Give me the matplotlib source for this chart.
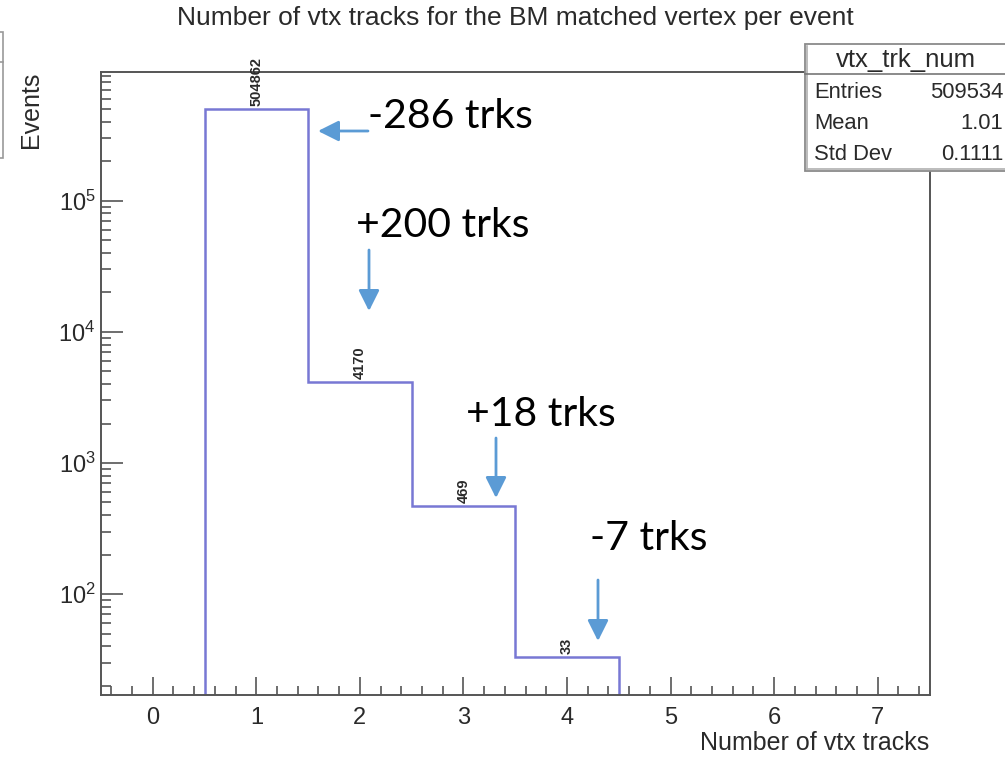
import matplotlib
matplotlib.use("Agg")
import matplotlib.pyplot as plt
from matplotlib.patches import Rectangle, FancyArrowPatch
from matplotlib.ticker import MultipleLocator, LogLocator, NullFormatter

plt.rcParams['font.family'] = ['Liberation Sans', 'DejaVu Sans']
plt.rcParams['mathtext.default'] = 'regular'

# histogram data
edges = [0.5, 1.5, 2.5, 3.5, 4.5]
counts = [504862, 4170, 469, 33]

title = "Number of vtx tracks for the BM matched vertex per event"
xlabel = "Number of vtx tracks"
ylabel = "Events"

stat_name = "vtx_trk_num"
stat_keys = ["Entries", "Mean", "Std Dev"]
stat_vals = ["509534", "1.01", "0.1111"]

notes = ["-286 trks", "+200 trks", "+18 trks", "-7 trks"]

W, H = 1005, 757
fig = plt.figure(figsize=(W / 100, H / 100), dpi=100)

def fx(x):
    return x / W

def fy(y):
    return 1 - y / H

ax = fig.add_axes([fx(101), fy(695), fx(929.5) - fx(101), fy(72) - fy(695)])

txtcol = '#2a2a2a'
hcol = '#7878d4'
ax.stairs(counts, edges, baseline=1, color=hcol, lw=1.8)
for i in range(len(counts)):
    xc = (edges[i] + edges[i + 1]) / 2
    ax.annotate(str(counts[i]), (xc, counts[i]), xytext=(0, 2), textcoords='offset points',
                rotation=90, ha='center', va='bottom', fontsize=10.5, color=txtcol,
                fontweight='bold')

ax.set_yscale('log')
ax.set_xlim(-0.5, 7.5)
ax.set_ylim(17, 9.6e5)

ax.xaxis.set_major_locator(MultipleLocator(1))
ax.xaxis.set_minor_locator(MultipleLocator(0.2))
ax.yaxis.set_major_locator(LogLocator(base=10, numticks=10))
ax.yaxis.set_minor_locator(LogLocator(base=10, subs=range(2, 10), numticks=20))
ax.yaxis.set_minor_formatter(NullFormatter())

axcol = '#555555'
for s in ax.spines.values():
    s.set_color(axcol)
    s.set_linewidth(1.4)
ax.tick_params(axis='both', which='both', direction='in', color=axcol, width=1.2,
               top=False, right=False, labelsize=17, labelcolor=txtcol)
ax.tick_params(axis='x', which='major', length=13, pad=9)
ax.tick_params(axis='x', which='minor', length=6.5)
ax.tick_params(axis='y', which='major', length=16, pad=4)
ax.tick_params(axis='y', which='minor', length=7)

ax.set_xlabel(xlabel, fontsize=18, loc='right', color=txtcol)
ax.xaxis.set_label_coords(1.0, -0.058)
ax.set_ylabel(ylabel, fontsize=18, loc='top', color=txtcol)
ax.yaxis.set_label_coords(-0.07, 1.0)

fig.text(fx(515), fy(18), title, fontsize=19, ha='center', va='center', color=txtcol)

# stats box
fig.add_artist(Rectangle((fx(805), fy(171)), fx(1010) - fx(805), fy(44) - fy(171),
                         transform=fig.transFigure, facecolor='white', edgecolor='#8a8a8a',
                         lw=1.3, zorder=5))
fig.add_artist(plt.Line2D([fx(807), fx(807)], [fy(169), fy(46)], transform=fig.transFigure,
                          color='#b0b0b0', lw=1.2, zorder=6))
fig.add_artist(plt.Line2D([fx(807), fx(1005)], [fy(169), fy(169)], transform=fig.transFigure,
                          color='#b0b0b0', lw=1.2, zorder=6))
fig.add_artist(plt.Line2D([fx(805), fx(1005)], [fy(74), fy(74)], transform=fig.transFigure,
                          color='#777777', lw=1.2, zorder=6))
fig.text(fx(906), fy(60), stat_name, fontsize=18.5, ha='center', va='center', zorder=7, color=txtcol)
for i in range(len(stat_keys)):
    yy = fy(92 + 31.5 * i)
    fig.text(fx(814), yy, stat_keys[i], fontsize=15.8, ha='left', va='center', zorder=7, color=txtcol)
    fig.text(fx(1003), yy, stat_vals[i], fontsize=15.8, ha='right', va='center', zorder=7, color=txtcol)

# cut-off box at the left edge
fig.add_artist(Rectangle((fx(-10), fy(158)), fx(13), fy(32) - fy(158), transform=fig.transFigure,
                         facecolor='none', edgecolor='#999999', lw=1.2))
fig.add_artist(plt.Line2D([0, fx(3)], [fy(62), fy(62)], transform=fig.transFigure,
                          color='#999999', lw=1.2))

# overlay annotations (text left/baseline in pixels, arrow tail and tip in pixels)
note_pos = [(368, 128), (356, 237), (466, 426), (590, 550)]
arrow_pos = [((368, 131), (318, 131)), ((369, 250), (369, 311)),
             ((496, 438), (496, 498)), ((598, 580), (598, 641))]
acol = '#5b9bd5'
for i in range(len(notes)):
    fig.text(fx(note_pos[i][0]), fy(note_pos[i][1]), notes[i], fontsize=29.5, family='Lato',
             ha='left', va='baseline', color='black')
    (x0, y0), (x1, y1) = arrow_pos[i]
    fig.add_artist(FancyArrowPatch(
        (fx(x0), fy(y0)), (fx(x1), fy(y1)), transform=fig.transFigure,
        arrowstyle='-|>,head_length=0.9,head_width=0.45', mutation_scale=14,
        color=acol, lw=2, shrinkA=0, shrinkB=0))

fig.savefig('out.png', dpi=100)
